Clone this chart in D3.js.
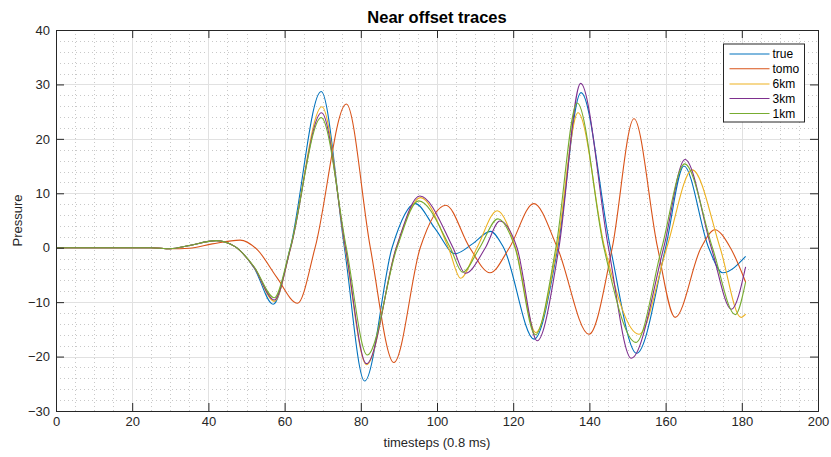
<!DOCTYPE html>
<html>
<head>
<meta charset="utf-8">
<script src="https://cdn.jsdelivr.net/npm/d3@7"></script>
<style>
  html, body { margin: 0; padding: 0; background: #fff; }
  svg { display: block; }
  text { font-family: "Liberation Sans", Arial, sans-serif; }
</style>
</head>
<body>
<svg id="chart" width="831" height="457"></svg>
<script>
// ---- data (timestep, pressure) ----
const seriesNames = ["true", "tomo", "6km", "3km", "1km"];
const seriesColors = ["#0072BD", "#D95319", "#EDB120", "#7E2F8E", "#77AC30"];

const trueTrace = [[0,0],[25,0],[30,-0.2],[35,0.4],[42,1.3],[47,0.2],[52,-3.7],[57,-10.4],[61.5,0],[69.6,28.7],[75.7,0],[81,-24.5],[88.2,0],[94.3,8.1],[99.5,3.5],[104.8,-1.1],[109.5,0.8],[114,3.0],[117.5,0],[125.5,-16.8],[131.7,0],[137.8,28.5],[145.5,0],[152.4,-19.4],[160,0],[164.8,15.0],[171.3,0],[175,-4.6],[181,-1.6]];
const tomoTrace = [[0,0],[25,0],[30,-0.2],[35,-0.1],[41,0.7],[48.3,1.4],[53,-0.5],[58,-5.5],[63.4,-10.2],[68,0],[76.2,26.4],[82.5,0],[88.7,-21.1],[95.6,0],[102.3,7.8],[108.6,0],[113.9,-4.6],[119,0],[125.4,8.1],[131.6,0],[139.9,-15.9],[146,0],[151.7,23.7],[157.9,0],[162.5,-12.8],[169.3,0],[172.9,3.3],[177,0],[181,-6.3]];
const km6Trace = [[0,0],[25,0],[30,-0.2],[35,0.4],[42,1.3],[47,0.2],[52,-3.6],[57.3,-9.85],[61.6,0],[69.8,25.9],[75.9,0],[81.5,-21.5],[89.3,0],[95.7,9.2],[103,0],[106.2,-5.6],[110.5,0],[115.8,6.8],[120.6,0],[125.9,-15.6],[131.5,0],[137,24.8],[144,0],[153,-15.9],[160.3,0],[167,14.3],[174.3,0],[179.8,-12.8],[181,-12.2]];
const km3Trace = [[0,0],[25,0],[30,-0.2],[35,0.4],[42,1.3],[47,0.2],[52,-3.6],[57.3,-9.6],[61.6,0],[69.7,24.8],[76,0],[81.5,-21.3],[89.3,0],[95.5,9.5],[104.2,0],[107.4,-4.7],[112.7,0],[116.5,4.9],[121,0],[126.3,-17.1],[132,0],[137.7,30.2],[145,0],[151,-20.3],[159.5,0],[165.1,16.2],[172,0],[177.3,-11.3],[181,-3.5]];
const km1Trace = [[0,0],[25,0],[30,-0.2],[35,0.4],[42,1.3],[47,0.2],[52,-3.5],[57.3,-9.2],[61.5,0],[69.6,23.9],[76.2,0],[81.7,-19.7],[89.5,0],[95.2,8.6],[103.5,0],[106.7,-4.5],[111.2,0],[116,5.3],[120.5,0],[125.8,-16.0],[131.2,0],[136.8,26.6],[143.8,0],[152.2,-17.4],[159,0],[165,15.4],[172.3,0],[178.3,-12.3],[181,-6.3]];

const xTicks = [0, 20, 40, 60, 80, 100, 120, 140, 160, 180, 200];
const yTicks = [-30, -20, -10, 0, 10, 20, 30, 40];
const titleText = "Near offset traces";
const xLabel = "timesteps (0.8 ms)";
const yLabel = "Pressure";

const traces = [trueTrace, tomoTrace, km6Trace, km3Trace, km1Trace];

// ---- layout ----
const L = 56, R = 818, T = 30, B = 411;
const svg = d3.select("#chart");
const x = d3.scaleLinear().domain([0, 200]).range([L, R]);
const y = d3.scaleLinear().domain([-30, 40]).range([B, T]);
const axisColor = "#262626";

// minor grid (dotted)
const g = svg.append("g");
const minorX = d3.range(0, 201, 5).filter(v => v % 20 !== 0);
const minorY = d3.range(-30, 41, 2).filter(v => v % 10 !== 0);
g.selectAll(".mgx").data(minorX).enter().append("line")
  .attr("x1", d => Math.round(x(d)) + 0.5).attr("x2", d => Math.round(x(d)) + 0.5)
  .attr("y1", T).attr("y2", B)
  .attr("stroke", "#c8c8c8").attr("stroke-width", 1).attr("stroke-dasharray", "1,3");
g.selectAll(".mgy").data(minorY).enter().append("line")
  .attr("y1", d => Math.round(y(d)) + 0.5).attr("y2", d => Math.round(y(d)) + 0.5)
  .attr("x1", L).attr("x2", R)
  .attr("stroke", "#c8c8c8").attr("stroke-width", 1).attr("stroke-dasharray", "1,3");
// major grid
g.selectAll(".gx").data(xTicks).enter().append("line")
  .attr("x1", d => Math.round(x(d)) + 0.5).attr("x2", d => Math.round(x(d)) + 0.5)
  .attr("y1", T).attr("y2", B)
  .attr("stroke", "#e1e1e1").attr("stroke-width", 1);
g.selectAll(".gy").data(yTicks).enter().append("line")
  .attr("y1", d => Math.round(y(d)) + 0.5).attr("y2", d => Math.round(y(d)) + 0.5)
  .attr("x1", L).attr("x2", R)
  .attr("stroke", "#e1e1e1").attr("stroke-width", 1);

// traces
const line = d3.line().x(d => x(d[0])).y(d => y(d[1])).curve(d3.curveMonotoneX);
const defs = svg.append("defs");
defs.append("clipPath").attr("id", "clip").append("rect")
  .attr("x", L).attr("y", T).attr("width", R - L).attr("height", B - T);
const lg = svg.append("g").attr("clip-path", "url(#clip)");
traces.forEach((tr, i) => {
  lg.append("path").datum(tr)
    .attr("d", line)
    .attr("fill", "none")
    .attr("stroke", seriesColors[i])
    .attr("stroke-width", 1.1);
});

// axes (box with ticks inside on all sides)
const tickLen = 8;
const xBottom = d3.axisBottom(x).tickValues(xTicks).tickSize(-tickLen).tickPadding(6);
const xTop = d3.axisTop(x).tickValues(xTicks).tickSize(-tickLen).tickFormat("");
const yLeft = d3.axisLeft(y).tickValues(yTicks).tickSize(-tickLen).tickPadding(6);
const yRight = d3.axisRight(y).tickValues(yTicks).tickSize(-tickLen).tickFormat("");

function styleAxis(sel) {
  sel.selectAll("path").attr("stroke", axisColor).attr("stroke-width", 1);
  sel.selectAll("line").attr("stroke", axisColor).attr("stroke-width", 1);
  sel.selectAll("text").attr("fill", axisColor).style("font-size", "13px")
    .style("font-family", "'Liberation Sans', Arial, sans-serif");
}
styleAxis(svg.append("g").attr("transform", `translate(0,${B})`).call(xBottom));
styleAxis(svg.append("g").attr("transform", `translate(0,${T})`).call(xTop));
styleAxis(svg.append("g").attr("transform", `translate(${L},0)`).call(yLeft));
styleAxis(svg.append("g").attr("transform", `translate(${R},0)`).call(yRight));

// title and labels
svg.append("text").attr("x", (L + R) / 2).attr("y", 23)
  .attr("text-anchor", "middle").attr("font-weight", "bold")
  .style("font-size", "16.5px").attr("fill", "#000").text(titleText);
svg.append("text").attr("x", (L + R) / 2).attr("y", 447)
  .attr("text-anchor", "middle").style("font-size", "13px")
  .attr("fill", axisColor).text(xLabel);
svg.append("text").attr("transform", `translate(22,${(T + B) / 2}) rotate(-90)`)
  .attr("text-anchor", "middle").style("font-size", "13px")
  .attr("fill", axisColor).text(yLabel);

// legend
const lgX = 723.5, lgY = 44, lgW = 81, lgH = 78;
const leg = svg.append("g");
leg.append("rect").attr("x", lgX).attr("y", lgY).attr("width", lgW).attr("height", lgH)
  .attr("fill", "#fff").attr("stroke", axisColor).attr("stroke-width", 1);
const rowY = [54, 68.8, 84, 98.5, 113.5];
seriesNames.forEach((name, i) => {
  leg.append("line").attr("x1", 729.5).attr("x2", 769.5)
    .attr("y1", rowY[i]).attr("y2", rowY[i])
    .attr("stroke", seriesColors[i]).attr("stroke-width", 1.1);
  leg.append("text").attr("x", 772.5).attr("y", rowY[i] + 4.3)
    .style("font-size", "12px").attr("fill", "#000").text(name);
});
</script>
</body>
</html>
